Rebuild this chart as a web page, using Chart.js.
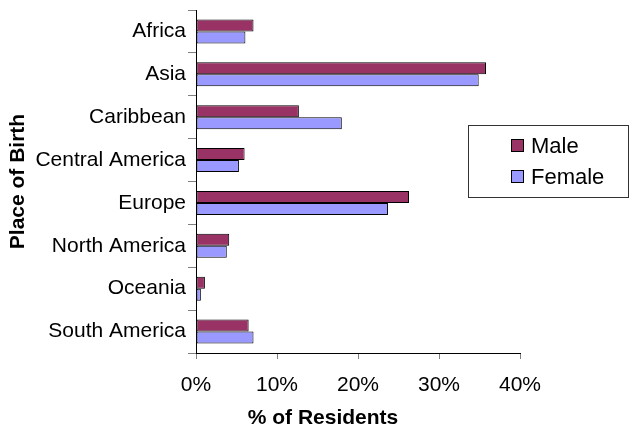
<!DOCTYPE html>
<html lang="en">
<head>
    <meta charset="UTF-8">
    <title>Place of Birth - % of Residents</title>
    <script src="https://cdn.jsdelivr.net/npm/chart.js"></script>
    <style>
        body { margin: 0; background: white; }
        .chart-container { width: 639px; height: 428px; position: relative; }
    </style>
</head>
<body>
    <div class="chart-container">
        <canvas id="birthChart"></canvas>
    </div>

    <script>
        // Chart data
        var categories = ['Africa', 'Asia', 'Caribbean', 'Central America', 'Europe', 'North America', 'Oceania', 'South America'];
        var seriesNames = ['Male', 'Female'];
        var maleValues = [7.1, 35.8, 12.7, 6.0, 26.3, 4.1, 1.1, 6.5];
        var femaleValues = [6.1, 34.9, 18.0, 5.3, 23.7, 3.8, 0.6, 7.1];
        var xTickValues = [0, 10, 20, 30, 40];
        var xTitle = '% of Residents';
        var yTitle = 'Place of Birth';

        var FONT = "'Liberation Sans', Arial, sans-serif";

        // legend box + x axis title, drawn where Excel put them
        var extrasPlugin = {
            id: 'extras',
            afterDraw: function(chart) {
                var c = chart.ctx;
                c.save();
                // x title
                c.fillStyle = '#000';
                c.font = 'bold 21px ' + FONT;
                c.textAlign = 'center';
                c.textBaseline = 'middle';
                c.fillText(xTitle, 323, 418);

                // legend
                c.fillStyle = '#fff';
                c.fillRect(468, 125, 160, 72);
                c.strokeStyle = '#333';
                c.lineWidth = 1;
                c.strokeRect(468.5, 125.5, 160, 72);

                c.font = '22px ' + FONT;
                c.textAlign = 'left';
                chart.data.datasets.forEach(function(ds, i) {
                    var y = 146 + i * 31;
                    c.fillStyle = ds.backgroundColor;
                    c.fillRect(511.5, y - 6.5, 12, 12);
                    c.strokeStyle = '#000';
                    c.strokeRect(511.5, y - 6.5, 12, 12);
                    c.fillStyle = '#000';
                    c.fillText(ds.label, 531, y + 1);
                });
                c.restore();
            }
        };

        var ctx = document.getElementById('birthChart').getContext('2d');

        new Chart(ctx, {
            type: 'bar',
            data: {
                labels: categories,
                datasets: [{
                    label: seriesNames[0],
                    data: maleValues,
                    backgroundColor: '#993366',
                    borderColor: '#000',
                    borderWidth: 1,
                    borderSkipped: false
                }, {
                    label: seriesNames[1],
                    data: femaleValues,
                    backgroundColor: '#9999FF',
                    borderColor: '#000',
                    borderWidth: 1,
                    borderSkipped: false
                }]
            },
            options: {
                indexAxis: 'y',
                responsive: true,
                maintainAspectRatio: false,
                animation: false,
                datasets: {
                    bar: {
                        categoryPercentage: 0.56,
                        barPercentage: 1
                    }
                },
                layout: {
                    padding: { top: 10, right: 119, left: 0, bottom: 0 }
                },
                plugins: {
                    legend: { display: false },
                    title: { display: false },
                    tooltip: { enabled: false }
                },
                scales: {
                    x: {
                        min: 0,
                        max: 40,
                        afterBuildTicks: function(scale) {
                            scale.ticks = xTickValues.map(function(v) { return { value: v }; });
                        },
                        afterFit: function(scale) {
                            scale.height = 75;
                        },
                        ticks: {
                            color: '#000',
                            font: { family: FONT, size: 21 },
                            padding: 14,
                            maxRotation: 0,
                            callback: function(value) {
                                return value + '%';
                            }
                        },
                        grid: {
                            drawOnChartArea: false,
                            color: '#808080',
                            tickLength: 6
                        },
                        border: { color: '#000', width: 1 }
                    },
                    y: {
                        afterFit: function(scale) {
                            scale.width = 196;
                        },
                        ticks: {
                            color: '#000',
                            // small lineHeight so the label half-height doesn't push the plot down
                            font: { family: FONT, size: 21, lineHeight: 0.75 },
                            padding: 2
                        },
                        grid: {
                            drawOnChartArea: false,
                            color: '#808080',
                            tickLength: 8
                        },
                        border: { color: '#000', width: 1 },
                        title: {
                            display: true,
                            text: yTitle,
                            color: '#000',
                            font: { family: FONT, size: 21, weight: 'bold' },
                            padding: { top: 6, bottom: 0 }
                        }
                    }
                }
            },
            plugins: [extrasPlugin]
        });
    </script>
</body>
</html>
